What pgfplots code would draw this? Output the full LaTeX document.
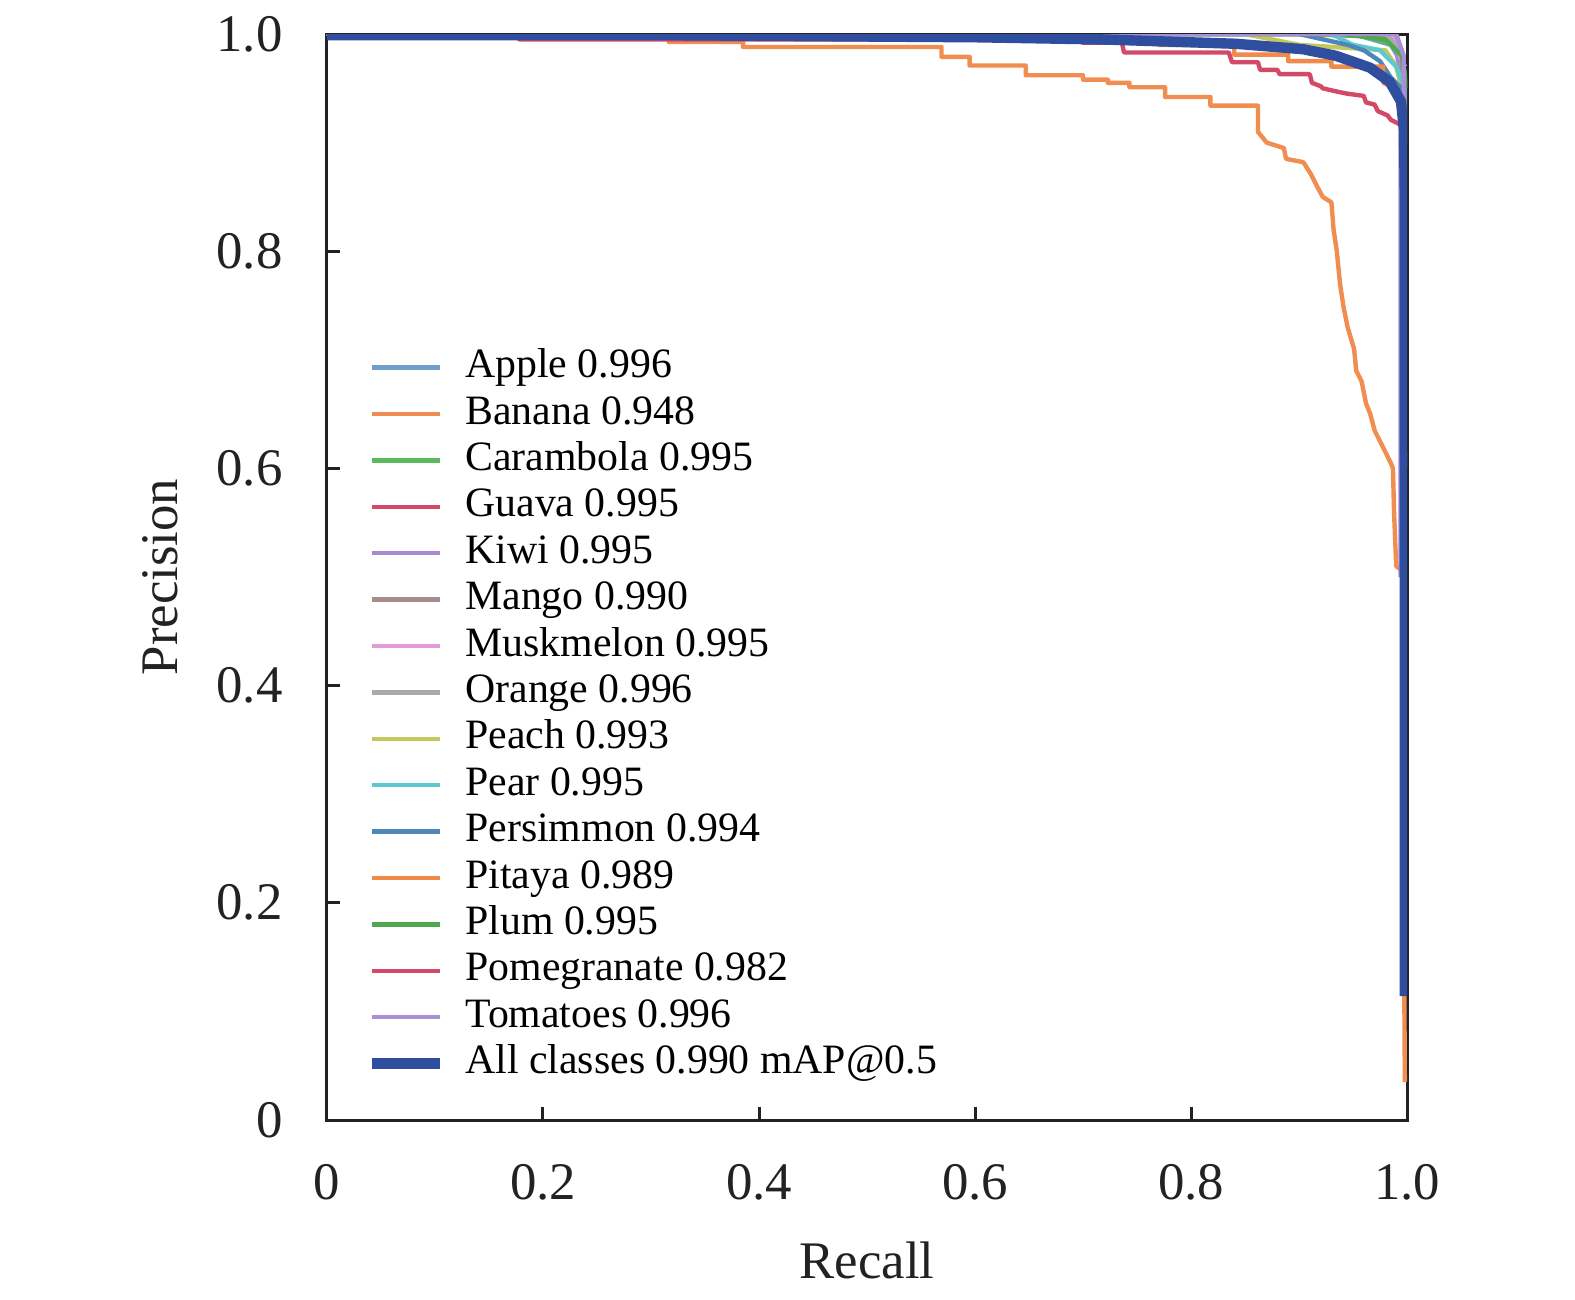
\documentclass[border=0pt]{standalone}
\usepackage{fontspec}
\setmainfont{Liberation Serif}
\usepackage{pgfplots}
\pgfplotsset{compat=1.18}
\definecolor{cApple}{HTML}{6F9FCA}
\definecolor{cBanana}{HTML}{EF8E50}
\definecolor{cCaram}{HTML}{5CB85C}
\definecolor{cGuava}{HTML}{D04A66}
\definecolor{cKiwi}{HTML}{A88AD0}
\definecolor{cMango}{HTML}{A88A8A}
\definecolor{cMusk}{HTML}{E49AD8}
\definecolor{cOrange}{HTML}{AAAAAA}
\definecolor{cPeach}{HTML}{C2C85A}
\definecolor{cPear}{HTML}{5CC8D0}
\definecolor{cPersim}{HTML}{4F86B8}
\definecolor{cPitaya}{HTML}{F0894A}
\definecolor{cPlum}{HTML}{4FA84F}
\definecolor{cPomeg}{HTML}{D24A68}
\definecolor{cTomato}{HTML}{A890D8}
\definecolor{cAll}{HTML}{2F4EA0}
\definecolor{axc}{HTML}{222222}
\begin{document}
\begin{tikzpicture}
\begin{axis}[
  name=ax,
  scale only axis,
  width=270pt, height=271.5pt,
  xmin=0, xmax=1, ymin=0, ymax=1,
  axis line style={axc, line width=0.75pt},
  tick pos=left, tick align=inside,
  major tick length=3.25pt,
  tick style={axc, line width=0.75pt},
  xtick={0,0.2,0.4,0.6,0.8,1},
  xticklabels={0,0.2,0.4,0.6,0.8,1.0},
  ytick={0,0.2,0.4,0.6,0.8,1},
  yticklabels={0,0.2,0.4,0.6,0.8,1.0},
  ticklabel style={font=\fontsize{13.2}{15}\selectfont, text=axc},
  xticklabel style={yshift=-7.6pt},
  yticklabel style={xshift=-7.6pt},
  xlabel={Recall}, ylabel={Precision},
  label style={font=\fontsize{13.2}{15}\selectfont, text=axc},
  xlabel style={at={(axis description cs:0.5,0)}, anchor=center, yshift=-35pt},
  ylabel style={at={(axis description cs:0,0.5)}, anchor=center, xshift=0pt, yshift=41.75pt},
  legend cell align=left,
  legend style={draw=none, fill=none, at={(0.036,0.7145)}, anchor=north west,
    inner sep=0pt, font=\fontsize{10.45}{12}\selectfont,
    nodes={inner sep=1pt, text height=7.2pt, text depth=2.2pt},
    row sep=0.2pt,
    /tikz/every odd column/.append style={column sep=4pt}},
  every axis plot/.append style={line width=1.1pt, line join=round},
]
% Apple
\addplot[cApple] coordinates {(0,1)(0.95,1)(0.985,0.99)(0.997,0.97)(1,0.93)};
\addlegendentry{Apple 0.996}
% Banana
\addplot[cBanana] coordinates {(0,1)(0.3166,1)(0.3166,0.9926)(0.3853,0.9926)(0.3853,0.988)(0.569,0.988)(0.569,0.979)(0.595,0.979)(0.595,0.971)(0.647,0.971)(0.647,0.962)(0.70,0.962)(0.70,0.958)(0.723,0.958)(0.723,0.955)(0.743,0.955)(0.743,0.951)(0.776,0.951)(0.776,0.942)(0.818,0.942)(0.818,0.934)(0.862,0.934)(0.862,0.91)(0.87,0.90)(0.886,0.895)(0.888,0.885)(0.904,0.882)(0.911,0.871)(0.916,0.861)(0.922,0.85)(0.93,0.845)(0.932,0.82)(0.935,0.80)(0.938,0.77)(0.941,0.75)(0.945,0.73)(0.951,0.71)(0.953,0.69)(0.958,0.68)(0.962,0.66)(0.966,0.65)(0.970,0.635)(0.975,0.625)(0.980,0.615)(0.985,0.605)(0.987,0.60)(0.988,0.56)(0.990,0.51)(0.9965,0.505)(0.9975,0.12)(0.998,0.035)};
\addlegendentry{Banana 0.948}
% Carambola
\addplot[cCaram] coordinates {(0,1)(0.9,1)(0.96,0.998)(0.99,0.99)(0.999,0.96)};
\addlegendentry{Carambola 0.995}
% Guava
\addplot[cGuava] coordinates {(0,1)(0.97,1)(0.985,0.995)(0.995,0.985)(0.999,0.95)};
\addlegendentry{Guava 0.995}
% Kiwi
\addplot[cKiwi] coordinates {(0,1)(0.98,1)(0.99,0.99)(0.994,0.95)(0.994,0.5)};
\addlegendentry{Kiwi 0.995}
% Mango
\addplot[cMango] coordinates {(0,1)(0.92,1)(0.99,0.998)(0.995,0.98)(1,0.9)};
\addlegendentry{Mango 0.990}
% Muskmelon
\addplot[cMusk] coordinates {(0,1)(0.985,1)(0.998,0.97)};
\addlegendentry{Muskmelon 0.995}
% Orange
\addplot[cOrange] coordinates {(0,1)(0.98,1)(0.995,0.985)(0.999,0.95)};
\addlegendentry{Orange 0.996}
% Peach
\addplot[cPeach] coordinates {(0,1)(0.85,1)(0.9,0.99)(0.98,0.985)(0.99,0.97)(0.995,0.95)(0.998,0.93)};
\addlegendentry{Peach 0.993}
% Pear
\addplot[cPear] coordinates {(0,1)(0.93,1)(0.95,0.99)(0.975,0.985)(0.99,0.97)(0.998,0.95)};
\addlegendentry{Pear 0.995}
% Persimmon
\addplot[cPersim] coordinates {(0,1)(0.9,1)(0.945,0.99)(0.96,0.985)(0.975,0.975)(0.985,0.96)(0.995,0.95)(0.998,0.9)};
\addlegendentry{Persimmon 0.994}
% Pitaya
\addplot[cPitaya] coordinates {(0,1)(0.72,1)(0.72,0.994)(0.77,0.994)(0.77,0.99)(0.84,0.99)(0.84,0.981)(0.89,0.981)(0.89,0.975)(0.93,0.975)(0.93,0.97)(0.978,0.97)(0.978,0.955)(0.99,0.95)(0.992,0.94)(0.996,0.935)(0.998,0.92)};
\addlegendentry{Pitaya 0.989}
% Plum
\addplot[cPlum] coordinates {(0,1)(0.94,1)(0.98,0.995)(0.995,0.98)(1,0.95)};
\addlegendentry{Plum 0.995}
% Pomegranate
\addplot[cPomeg] coordinates {(0,1)(0.178,1)(0.178,0.995)(0.70,0.995)(0.70,0.992)(0.736,0.992)(0.738,0.983)(0.835,0.983)(0.838,0.974)(0.862,0.974)(0.864,0.967)(0.88,0.967)(0.882,0.963)(0.91,0.963)(0.912,0.955)(0.92,0.952)(0.922,0.95)(0.935,0.947)(0.945,0.945)(0.96,0.943)(0.962,0.937)(0.97,0.935)(0.973,0.929)(0.982,0.925)(0.985,0.921)(0.993,0.917)(0.997,0.913)(0.998,0.9)};
\addlegendentry{Pomegranate 0.982}
% Tomatoes
\addplot[cTomato] coordinates {(0,1)(0.99,1)(0.997,0.98)(0.998,0.6)};
\addlegendentry{Tomatoes 0.996}
% All classes
\addplot[cAll, line width=2.6pt] coordinates {(0,0.999)(0.3,0.999)(0.6,0.997)(0.718,0.995)(0.8415,0.991)(0.9036,0.986)(0.934,0.98)(0.9657,0.969)(0.984,0.956)(0.9944,0.938)(0.9972,0.912)(0.998,0.847)(0.998,0.114)};
\addlegendentry{All classes 0.990 mAP@0.5}
\end{axis}
\pgfresetboundingbox
\path ([shift={(-81.75pt,-44.75pt)}]ax.south west) rectangle ([shift={(42pt,8.5pt)}]ax.north east);
\end{tikzpicture}
\end{document}
